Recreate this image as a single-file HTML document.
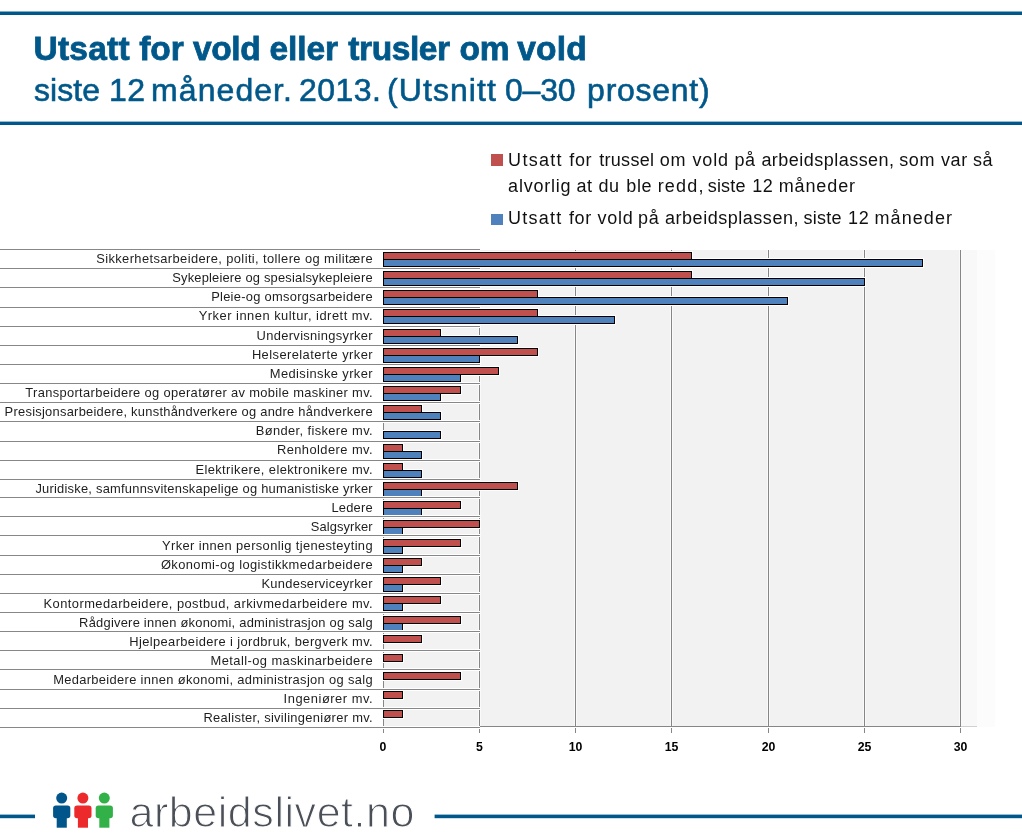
<!DOCTYPE html>
<html><head><meta charset="utf-8"><style>
html,body{margin:0;padding:0;background:#fff;}
body{width:1022px;height:838px;overflow:hidden;position:relative;}
svg{position:absolute;left:0;top:0;font-family:"Liberation Sans",sans-serif;will-change:transform;}
</style></head><body>
<svg width="1022" height="838" viewBox="0 0 1022 838">
<rect x="383" y="250" width="578" height="476" fill="#f2f2f2"/>
<rect x="961" y="250" width="16" height="477" fill="#f8f8f8"/>
<rect x="977" y="250" width="18" height="477" fill="#fcfcfc"/>
<rect x="478" y="250" width="3" height="476" fill="#fafafa"/>
<rect x="574" y="250" width="3" height="476" fill="#fafafa"/>
<rect x="670" y="250" width="3" height="476" fill="#fafafa"/>
<rect x="767" y="250" width="3" height="476" fill="#fafafa"/>
<rect x="863" y="250" width="3" height="476" fill="#fafafa"/>
<rect x="959" y="250" width="3" height="476" fill="#fafafa"/>
<rect x="479" y="250" width="1" height="476" fill="#868686"/>
<rect x="575" y="250" width="1" height="476" fill="#868686"/>
<rect x="671" y="250" width="1" height="476" fill="#868686"/>
<rect x="768" y="250" width="1" height="476" fill="#868686"/>
<rect x="864" y="250" width="1" height="476" fill="#868686"/>
<rect x="960" y="250" width="1" height="476" fill="#868686"/>
<rect x="383" y="250" width="1" height="476" fill="#868686"/>
<rect x="383" y="726" width="578" height="1" fill="#868686"/>
<rect x="961" y="726" width="16" height="1" fill="#d0d0d0"/>
<rect x="383" y="728" width="1" height="5" fill="#868686"/>
<rect x="479" y="728" width="1" height="5" fill="#868686"/>
<rect x="575" y="728" width="1" height="5" fill="#868686"/>
<rect x="671" y="728" width="1" height="5" fill="#868686"/>
<rect x="768" y="728" width="1" height="5" fill="#868686"/>
<rect x="864" y="728" width="1" height="5" fill="#868686"/>
<rect x="960" y="728" width="1" height="5" fill="#868686"/>
<rect x="382" y="251" width="311" height="10" fill="#fff"/>
<rect x="382" y="258" width="542" height="10" fill="#fff"/>
<rect x="382" y="270" width="311" height="10" fill="#fff"/>
<rect x="382" y="277" width="484" height="10" fill="#fff"/>
<rect x="382" y="289" width="157" height="10" fill="#fff"/>
<rect x="382" y="296" width="407" height="10" fill="#fff"/>
<rect x="382" y="308" width="157" height="10" fill="#fff"/>
<rect x="382" y="315" width="234" height="10" fill="#fff"/>
<rect x="382" y="328" width="60" height="10" fill="#fff"/>
<rect x="382" y="335" width="137" height="10" fill="#fff"/>
<rect x="382" y="347" width="157" height="10" fill="#fff"/>
<rect x="382" y="354" width="99" height="10" fill="#fff"/>
<rect x="382" y="366" width="118" height="10" fill="#fff"/>
<rect x="382" y="373" width="80" height="10" fill="#fff"/>
<rect x="382" y="385" width="80" height="10" fill="#fff"/>
<rect x="382" y="392" width="60" height="10" fill="#fff"/>
<rect x="382" y="404" width="41" height="10" fill="#fff"/>
<rect x="382" y="411" width="60" height="10" fill="#fff"/>
<rect x="382" y="430" width="60" height="10" fill="#fff"/>
<rect x="382" y="443" width="22" height="10" fill="#fff"/>
<rect x="382" y="450" width="41" height="10" fill="#fff"/>
<rect x="382" y="462" width="22" height="10" fill="#fff"/>
<rect x="382" y="469" width="41" height="10" fill="#fff"/>
<rect x="382" y="481" width="137" height="10" fill="#fff"/>
<rect x="382" y="488" width="41" height="10" fill="#fff"/>
<rect x="382" y="500" width="80" height="10" fill="#fff"/>
<rect x="382" y="507" width="41" height="10" fill="#fff"/>
<rect x="382" y="519" width="99" height="10" fill="#fff"/>
<rect x="382" y="526" width="22" height="10" fill="#fff"/>
<rect x="382" y="538" width="80" height="10" fill="#fff"/>
<rect x="382" y="545" width="22" height="10" fill="#fff"/>
<rect x="382" y="557" width="41" height="10" fill="#fff"/>
<rect x="382" y="564" width="22" height="10" fill="#fff"/>
<rect x="382" y="576" width="60" height="10" fill="#fff"/>
<rect x="382" y="583" width="22" height="10" fill="#fff"/>
<rect x="382" y="595" width="60" height="10" fill="#fff"/>
<rect x="382" y="602" width="22" height="10" fill="#fff"/>
<rect x="382" y="615" width="80" height="10" fill="#fff"/>
<rect x="382" y="622" width="22" height="10" fill="#fff"/>
<rect x="382" y="634" width="41" height="10" fill="#fff"/>
<rect x="382" y="653" width="22" height="10" fill="#fff"/>
<rect x="382" y="671" width="80" height="10" fill="#fff"/>
<rect x="382" y="690" width="22" height="10" fill="#fff"/>
<rect x="382" y="709" width="22" height="10" fill="#fff"/>
<rect x="383.5" y="252.5" width="308" height="7" fill="#c0504d" stroke="#000" stroke-width="1.0"/>
<rect x="383.5" y="259.5" width="539" height="7" fill="#4f81bd" stroke="#000" stroke-width="1.0"/>
<rect x="383.5" y="271.5" width="308" height="7" fill="#c0504d" stroke="#000" stroke-width="1.0"/>
<rect x="383.5" y="278.5" width="481" height="7" fill="#4f81bd" stroke="#000" stroke-width="1.0"/>
<rect x="383.5" y="290.5" width="154" height="7" fill="#c0504d" stroke="#000" stroke-width="1.0"/>
<rect x="383.5" y="297.5" width="404" height="7" fill="#4f81bd" stroke="#000" stroke-width="1.0"/>
<rect x="383.5" y="309.5" width="154" height="7" fill="#c0504d" stroke="#000" stroke-width="1.0"/>
<rect x="383.5" y="316.5" width="231" height="7" fill="#4f81bd" stroke="#000" stroke-width="1.0"/>
<rect x="383.5" y="329.5" width="57" height="7" fill="#c0504d" stroke="#000" stroke-width="1.0"/>
<rect x="383.5" y="336.5" width="134" height="7" fill="#4f81bd" stroke="#000" stroke-width="1.0"/>
<rect x="383.5" y="348.5" width="154" height="7" fill="#c0504d" stroke="#000" stroke-width="1.0"/>
<rect x="383.5" y="355.5" width="96" height="7" fill="#4f81bd" stroke="#000" stroke-width="1.0"/>
<rect x="383.5" y="367.5" width="115" height="7" fill="#c0504d" stroke="#000" stroke-width="1.0"/>
<rect x="383.5" y="374.5" width="77" height="7" fill="#4f81bd" stroke="#000" stroke-width="1.0"/>
<rect x="383.5" y="386.5" width="77" height="7" fill="#c0504d" stroke="#000" stroke-width="1.0"/>
<rect x="383.5" y="393.5" width="57" height="7" fill="#4f81bd" stroke="#000" stroke-width="1.0"/>
<rect x="383.5" y="405.5" width="38" height="7" fill="#c0504d" stroke="#000" stroke-width="1.0"/>
<rect x="383.5" y="412.5" width="57" height="7" fill="#4f81bd" stroke="#000" stroke-width="1.0"/>
<rect x="383.5" y="431.5" width="57" height="7" fill="#4f81bd" stroke="#000" stroke-width="1.0"/>
<rect x="383.5" y="444.5" width="19" height="7" fill="#c0504d" stroke="#000" stroke-width="1.0"/>
<rect x="383.5" y="451.5" width="38" height="7" fill="#4f81bd" stroke="#000" stroke-width="1.0"/>
<rect x="383.5" y="463.5" width="19" height="7" fill="#c0504d" stroke="#000" stroke-width="1.0"/>
<rect x="383.5" y="470.5" width="38" height="7" fill="#4f81bd" stroke="#000" stroke-width="1.0"/>
<rect x="383.5" y="482.5" width="134" height="7" fill="#c0504d" stroke="#000" stroke-width="1.0"/>
<rect x="383.5" y="489.5" width="38" height="7" fill="#4f81bd" stroke="#000" stroke-width="1.0"/>
<rect x="383.5" y="501.5" width="77" height="7" fill="#c0504d" stroke="#000" stroke-width="1.0"/>
<rect x="383.5" y="508.5" width="38" height="7" fill="#4f81bd" stroke="#000" stroke-width="1.0"/>
<rect x="383.5" y="520.5" width="96" height="7" fill="#c0504d" stroke="#000" stroke-width="1.0"/>
<rect x="383.5" y="527.5" width="19" height="7" fill="#4f81bd" stroke="#000" stroke-width="1.0"/>
<rect x="383.5" y="539.5" width="77" height="7" fill="#c0504d" stroke="#000" stroke-width="1.0"/>
<rect x="383.5" y="546.5" width="19" height="7" fill="#4f81bd" stroke="#000" stroke-width="1.0"/>
<rect x="383.5" y="558.5" width="38" height="7" fill="#c0504d" stroke="#000" stroke-width="1.0"/>
<rect x="383.5" y="565.5" width="19" height="7" fill="#4f81bd" stroke="#000" stroke-width="1.0"/>
<rect x="383.5" y="577.5" width="57" height="7" fill="#c0504d" stroke="#000" stroke-width="1.0"/>
<rect x="383.5" y="584.5" width="19" height="7" fill="#4f81bd" stroke="#000" stroke-width="1.0"/>
<rect x="383.5" y="596.5" width="57" height="7" fill="#c0504d" stroke="#000" stroke-width="1.0"/>
<rect x="383.5" y="603.5" width="19" height="7" fill="#4f81bd" stroke="#000" stroke-width="1.0"/>
<rect x="383.5" y="616.5" width="77" height="7" fill="#c0504d" stroke="#000" stroke-width="1.0"/>
<rect x="383.5" y="623.5" width="19" height="7" fill="#4f81bd" stroke="#000" stroke-width="1.0"/>
<rect x="383.5" y="635.5" width="38" height="7" fill="#c0504d" stroke="#000" stroke-width="1.0"/>
<rect x="383.5" y="654.5" width="19" height="7" fill="#c0504d" stroke="#000" stroke-width="1.0"/>
<rect x="383.5" y="672.5" width="77" height="7" fill="#c0504d" stroke="#000" stroke-width="1.0"/>
<rect x="383.5" y="691.5" width="19" height="7" fill="#c0504d" stroke="#000" stroke-width="1.0"/>
<rect x="383.5" y="710.5" width="19" height="7" fill="#c0504d" stroke="#000" stroke-width="1.0"/>
<rect x="0" y="248" width="480" height="3" fill="#fff"/>
<rect x="0" y="267" width="480" height="3" fill="#fff"/>
<rect x="0" y="286" width="480" height="3" fill="#fff"/>
<rect x="0" y="306" width="480" height="3" fill="#fff"/>
<rect x="0" y="325" width="480" height="3" fill="#fff"/>
<rect x="0" y="344" width="480" height="3" fill="#fff"/>
<rect x="0" y="363" width="480" height="3" fill="#fff"/>
<rect x="0" y="382" width="480" height="3" fill="#fff"/>
<rect x="0" y="401" width="480" height="3" fill="#fff"/>
<rect x="0" y="420" width="480" height="3" fill="#fff"/>
<rect x="0" y="440" width="480" height="3" fill="#fff"/>
<rect x="0" y="459" width="480" height="3" fill="#fff"/>
<rect x="0" y="478" width="480" height="3" fill="#fff"/>
<rect x="0" y="496" width="480" height="3" fill="#fff"/>
<rect x="0" y="515" width="480" height="3" fill="#fff"/>
<rect x="0" y="534" width="480" height="3" fill="#fff"/>
<rect x="0" y="554" width="480" height="3" fill="#fff"/>
<rect x="0" y="573" width="480" height="3" fill="#fff"/>
<rect x="0" y="592" width="480" height="3" fill="#fff"/>
<rect x="0" y="611" width="480" height="3" fill="#fff"/>
<rect x="0" y="630" width="480" height="3" fill="#fff"/>
<rect x="0" y="649" width="480" height="3" fill="#fff"/>
<rect x="0" y="668" width="480" height="3" fill="#fff"/>
<rect x="0" y="688" width="480" height="3" fill="#fff"/>
<rect x="0" y="707" width="480" height="3" fill="#fff"/>
<rect x="0" y="726" width="480" height="3" fill="#fff"/>
<rect x="0" y="249" width="480" height="1" fill="#878787"/>
<rect x="0" y="268" width="480" height="1" fill="#878787"/>
<rect x="0" y="287" width="480" height="1" fill="#878787"/>
<rect x="0" y="307" width="480" height="1" fill="#878787"/>
<rect x="0" y="326" width="480" height="1" fill="#878787"/>
<rect x="0" y="345" width="480" height="1" fill="#878787"/>
<rect x="0" y="364" width="480" height="1" fill="#878787"/>
<rect x="0" y="383" width="480" height="1" fill="#878787"/>
<rect x="0" y="402" width="480" height="1" fill="#878787"/>
<rect x="0" y="421" width="480" height="1" fill="#878787"/>
<rect x="0" y="441" width="480" height="1" fill="#878787"/>
<rect x="0" y="460" width="480" height="1" fill="#878787"/>
<rect x="0" y="479" width="480" height="1" fill="#878787"/>
<rect x="0" y="497" width="480" height="1" fill="#878787"/>
<rect x="0" y="516" width="480" height="1" fill="#878787"/>
<rect x="0" y="535" width="480" height="1" fill="#878787"/>
<rect x="0" y="555" width="480" height="1" fill="#878787"/>
<rect x="0" y="574" width="480" height="1" fill="#878787"/>
<rect x="0" y="593" width="480" height="1" fill="#878787"/>
<rect x="0" y="612" width="480" height="1" fill="#878787"/>
<rect x="0" y="631" width="480" height="1" fill="#878787"/>
<rect x="0" y="650" width="480" height="1" fill="#878787"/>
<rect x="0" y="669" width="480" height="1" fill="#878787"/>
<rect x="0" y="689" width="480" height="1" fill="#878787"/>
<rect x="0" y="708" width="480" height="1" fill="#878787"/>
<rect x="0" y="727" width="480" height="1" fill="#878787"/>
<circle cx="61.7" cy="798.1" r="5.5" fill="#00558a"/><rect x="53.1" y="805.5" width="17.2" height="12.8" rx="2.8" fill="#00558a"/><rect x="56.7" y="810" width="10.1" height="17.7" fill="#00558a"/>
<circle cx="82.9" cy="798.1" r="5.5" fill="#ec2a2b"/><rect x="74.30000000000001" y="805.5" width="17.2" height="12.8" rx="2.8" fill="#ec2a2b"/><rect x="77.9" y="810" width="10.1" height="17.7" fill="#ec2a2b"/>
<circle cx="104.3" cy="798.1" r="5.5" fill="#33b149"/><rect x="95.7" y="805.5" width="17.2" height="12.8" rx="2.8" fill="#33b149"/><rect x="99.3" y="810" width="10.1" height="17.7" fill="#33b149"/>
<rect x="0" y="814.6" width="35" height="3.6" fill="#00588a"/>
<rect x="434.6" y="814.6" width="600" height="3.6" fill="#00588a"/>
<rect x="0" y="11.5" width="1022" height="3.5" fill="#00588a"/>
<rect x="0" y="121.6" width="1022" height="3.4" fill="#00588a"/>
<rect x="491" y="154" width="12" height="12" fill="#c0504d"/>
<rect x="491" y="214" width="12" height="11" fill="#4f81bd"/>
<text x="508.10" y="166.00" font-size="18" font-weight="normal" fill="#111" letter-spacing="1.300">Utsatt</text>
<text x="569.30" y="166.00" font-size="18" font-weight="normal" fill="#111" letter-spacing="0.600">for</text>
<text x="599.20" y="166.00" font-size="18" font-weight="normal" fill="#111" letter-spacing="0.300">trussel</text>
<text x="659.80" y="166.00" font-size="18" font-weight="normal" fill="#111" letter-spacing="0.600">om</text>
<text x="692.40" y="166.00" font-size="18" font-weight="normal" fill="#111" letter-spacing="0.900">vold</text>
<text x="734.50" y="166.00" font-size="18" font-weight="normal" fill="#111" letter-spacing="0.600">på</text>
<text x="761.40" y="166.00" font-size="18" font-weight="normal" fill="#111" letter-spacing="0.472">arbeidsplassen,</text>
<text x="899.20" y="166.00" font-size="18" font-weight="normal" fill="#111" letter-spacing="0.600">som</text>
<text x="941.00" y="166.00" font-size="18" font-weight="normal" fill="#111" letter-spacing="0.600">var</text>
<text x="972.90" y="166.00" font-size="18" font-weight="normal" fill="#111" letter-spacing="0.600">så</text>
<text x="508.12" y="191.80" font-size="18" font-weight="normal" fill="#111" letter-spacing="0.756">alvorlig</text>
<text x="576.50" y="191.80" font-size="18" font-weight="normal" fill="#111" letter-spacing="0.600">at</text>
<text x="598.50" y="191.80" font-size="18" font-weight="normal" fill="#111" letter-spacing="0.600">du</text>
<text x="626.36" y="191.80" font-size="18" font-weight="normal" fill="#111" letter-spacing="0.600">ble</text>
<text x="657.69" y="191.80" font-size="18" font-weight="normal" fill="#111" letter-spacing="1.185">redd,</text>
<text x="707.74" y="191.80" font-size="18" font-weight="normal" fill="#111" letter-spacing="0.178">siste</text>
<text x="752.22" y="191.80" font-size="18" font-weight="normal" fill="#111" letter-spacing="0.600">12</text>
<text x="778.69" y="191.80" font-size="18" font-weight="normal" fill="#111" letter-spacing="0.885">måneder</text>
<text x="508.10" y="224.30" font-size="18" font-weight="normal" fill="#111" letter-spacing="1.248">Utsatt</text>
<text x="568.94" y="224.30" font-size="18" font-weight="normal" fill="#111" letter-spacing="0.600">for</text>
<text x="597.44" y="224.30" font-size="18" font-weight="normal" fill="#111" letter-spacing="0.780">vold</text>
<text x="638.08" y="224.30" font-size="18" font-weight="normal" fill="#111" letter-spacing="0.600">på</text>
<text x="665.02" y="224.30" font-size="18" font-weight="normal" fill="#111" letter-spacing="0.526">arbeidsplassen,</text>
<text x="803.48" y="224.30" font-size="18" font-weight="normal" fill="#111" letter-spacing="0.247">siste</text>
<text x="848.10" y="224.30" font-size="18" font-weight="normal" fill="#111" letter-spacing="0.600">12</text>
<text x="874.52" y="224.30" font-size="18" font-weight="normal" fill="#111" letter-spacing="1.080">måneder</text>
<text x="33.50" y="60.20" font-size="33.5" font-weight="bold" fill="#00588a" letter-spacing="0.240" stroke="#00588a" stroke-width="0.8">Utsatt</text>
<text x="139.30" y="60.20" font-size="33.5" font-weight="bold" fill="#00588a" letter-spacing="-0.120" stroke="#00588a" stroke-width="0.8">for</text>
<text x="193.00" y="60.20" font-size="33.5" font-weight="bold" fill="#00588a" letter-spacing="-0.420" stroke="#00588a" stroke-width="0.8">vold</text>
<text x="269.60" y="60.20" font-size="33.5" font-weight="bold" fill="#00588a" letter-spacing="-0.120" stroke="#00588a" stroke-width="0.8">eller</text>
<text x="348.30" y="60.20" font-size="33.5" font-weight="bold" fill="#00588a" letter-spacing="-0.420" stroke="#00588a" stroke-width="0.8">trusler</text>
<text x="459.40" y="60.20" font-size="33.5" font-weight="bold" fill="#00588a" letter-spacing="-0.120" stroke="#00588a" stroke-width="0.8">om</text>
<text x="517.30" y="60.20" font-size="33.5" font-weight="bold" fill="#00588a" letter-spacing="0.180" stroke="#00588a" stroke-width="0.8">vold</text>
<text x="33.97" y="101.00" font-size="32" font-weight="normal" fill="#00588a" letter-spacing="0.063" stroke="#00588a" stroke-width="0.6">siste</text>
<text x="109.07" y="101.00" font-size="32" font-weight="normal" fill="#00588a" letter-spacing="0.360" stroke="#00588a" stroke-width="0.6">12</text>
<text x="151.11" y="101.00" font-size="32" font-weight="normal" fill="#00588a" letter-spacing="1.060" stroke="#00588a" stroke-width="0.6">måneder.</text>
<text x="299.06" y="101.00" font-size="32" font-weight="normal" fill="#00588a" letter-spacing="0.423" stroke="#00588a" stroke-width="0.6">2013.</text>
<text x="387.11" y="101.00" font-size="32" font-weight="normal" fill="#00588a" letter-spacing="1.060" stroke="#00588a" stroke-width="0.6">(Utsnitt</text>
<text x="504.95" y="101.00" font-size="32" font-weight="normal" fill="#00588a" letter-spacing="-0.180" stroke="#00588a" stroke-width="0.6">0–30</text>
<text x="587.11" y="101.00" font-size="32" font-weight="normal" fill="#00588a" letter-spacing="0.721" stroke="#00588a" stroke-width="0.6">prosent)</text>
<text x="129.50" y="827.00" font-size="43" font-weight="normal" fill="#4b5058" letter-spacing="0.550" stroke="#fff" stroke-width="1.1">arbeidslivet.no</text>
<text x="372.99" y="263.00" font-size="12.9" font-weight="normal" fill="#1e1e1e" text-anchor="end" letter-spacing="0.393">Sikkerhetsarbeidere, politi, tollere og militære</text>
<text x="372.79" y="282.14" font-size="12.9" font-weight="normal" fill="#1e1e1e" text-anchor="end" letter-spacing="0.193">Sykepleiere og spesialsykepleiere</text>
<text x="372.88" y="301.28" font-size="12.9" font-weight="normal" fill="#1e1e1e" text-anchor="end" letter-spacing="0.279">Pleie-og omsorgsarbeidere</text>
<text x="373.10" y="320.43" font-size="12.9" font-weight="normal" fill="#1e1e1e" text-anchor="end" letter-spacing="0.495">Yrker innen kultur, idrett mv.</text>
<text x="372.93" y="339.57" font-size="12.9" font-weight="normal" fill="#1e1e1e" text-anchor="end" letter-spacing="0.333">Undervisningsyrker</text>
<text x="373.03" y="358.71" font-size="12.9" font-weight="normal" fill="#1e1e1e" text-anchor="end" letter-spacing="0.433">Helserelaterte yrker</text>
<text x="373.01" y="377.85" font-size="12.9" font-weight="normal" fill="#1e1e1e" text-anchor="end" letter-spacing="0.406">Medisinske yrker</text>
<text x="372.94" y="396.99" font-size="12.9" font-weight="normal" fill="#1e1e1e" text-anchor="end" letter-spacing="0.342">Transportarbeidere og operatører av mobile maskiner mv.</text>
<text x="372.86" y="416.14" font-size="12.9" font-weight="normal" fill="#1e1e1e" text-anchor="end" letter-spacing="0.258">Presisjonsarbeidere, kunsthåndverkere og andre håndverkere</text>
<text x="372.98" y="435.28" font-size="12.9" font-weight="normal" fill="#1e1e1e" text-anchor="end" letter-spacing="0.378">Bønder, fiskere mv.</text>
<text x="373.03" y="454.42" font-size="12.9" font-weight="normal" fill="#1e1e1e" text-anchor="end" letter-spacing="0.434">Renholdere mv.</text>
<text x="373.01" y="473.56" font-size="12.9" font-weight="normal" fill="#1e1e1e" text-anchor="end" letter-spacing="0.412">Elektrikere, elektronikere mv.</text>
<text x="372.83" y="492.70" font-size="12.9" font-weight="normal" fill="#1e1e1e" text-anchor="end" letter-spacing="0.234">Juridiske, samfunnsvitenskapelige og humanistiske yrker</text>
<text x="372.79" y="511.85" font-size="12.9" font-weight="normal" fill="#1e1e1e" text-anchor="end" letter-spacing="0.186">Ledere</text>
<text x="372.71" y="530.99" font-size="12.9" font-weight="normal" fill="#1e1e1e" text-anchor="end" letter-spacing="0.111">Salgsyrker</text>
<text x="372.98" y="550.13" font-size="12.9" font-weight="normal" fill="#1e1e1e" text-anchor="end" letter-spacing="0.376">Yrker innen personlig tjenesteyting</text>
<text x="373.00" y="569.27" font-size="12.9" font-weight="normal" fill="#1e1e1e" text-anchor="end" letter-spacing="0.403">Økonomi-og logistikkmedarbeidere</text>
<text x="372.87" y="588.41" font-size="12.9" font-weight="normal" fill="#1e1e1e" text-anchor="end" letter-spacing="0.271">Kundeserviceyrker</text>
<text x="373.03" y="607.56" font-size="12.9" font-weight="normal" fill="#1e1e1e" text-anchor="end" letter-spacing="0.431">Kontormedarbeidere, postbud, arkivmedarbeidere mv.</text>
<text x="372.84" y="626.70" font-size="12.9" font-weight="normal" fill="#1e1e1e" text-anchor="end" letter-spacing="0.243">Rådgivere innen økonomi, administrasjon og salg</text>
<text x="372.99" y="645.84" font-size="12.9" font-weight="normal" fill="#1e1e1e" text-anchor="end" letter-spacing="0.386">Hjelpearbeidere i jordbruk, bergverk mv.</text>
<text x="373.02" y="664.98" font-size="12.9" font-weight="normal" fill="#1e1e1e" text-anchor="end" letter-spacing="0.420">Metall-og maskinarbeidere</text>
<text x="372.93" y="684.12" font-size="12.9" font-weight="normal" fill="#1e1e1e" text-anchor="end" letter-spacing="0.334">Medarbeidere innen økonomi, administrasjon og salg</text>
<text x="373.13" y="703.27" font-size="12.9" font-weight="normal" fill="#1e1e1e" text-anchor="end" letter-spacing="0.526">Ingeniører mv.</text>
<text x="372.91" y="722.41" font-size="12.9" font-weight="normal" fill="#1e1e1e" text-anchor="end" letter-spacing="0.306">Realister, sivilingeniører mv.</text>
<text x="382.80" y="750.80" font-size="12.3" font-weight="bold" fill="#000" text-anchor="middle">0</text>
<text x="479.50" y="750.80" font-size="12.3" font-weight="bold" fill="#000" text-anchor="middle">5</text>
<text x="575.50" y="750.80" font-size="12.3" font-weight="bold" fill="#000" text-anchor="middle">10</text>
<text x="671.50" y="750.80" font-size="12.3" font-weight="bold" fill="#000" text-anchor="middle">15</text>
<text x="768.50" y="750.80" font-size="12.3" font-weight="bold" fill="#000" text-anchor="middle">20</text>
<text x="864.50" y="750.80" font-size="12.3" font-weight="bold" fill="#000" text-anchor="middle">25</text>
<text x="960.50" y="750.80" font-size="12.3" font-weight="bold" fill="#000" text-anchor="middle">30</text>
</svg>
</body></html>
